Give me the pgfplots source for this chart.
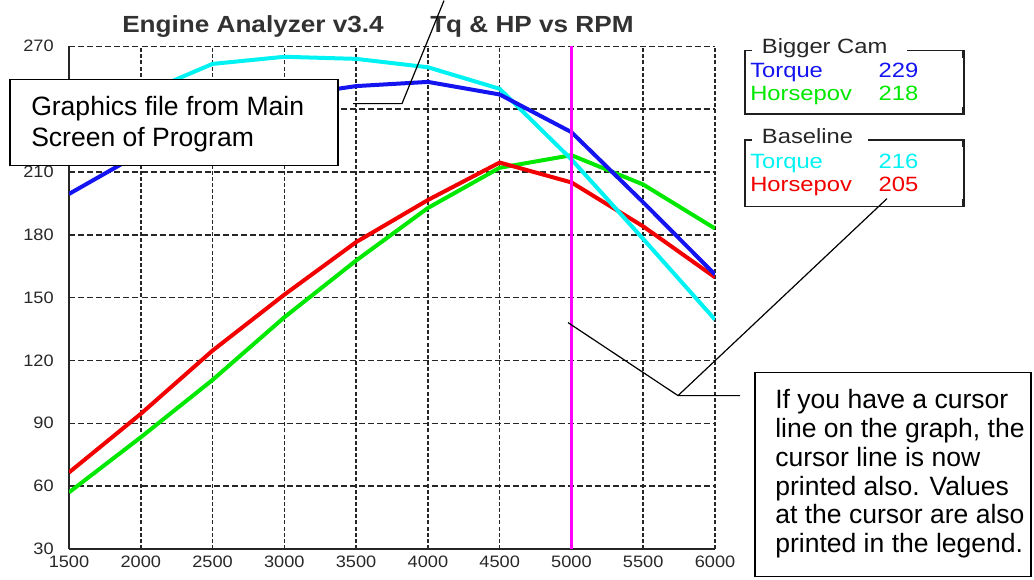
\documentclass[border=0pt]{standalone}
\usepackage{pgfplots}
\pgfplotsset{compat=1.18}
\usepackage{fontspec}
\setmainfont{Liberation Sans}
\newfontfamily\tickfont{Liberation Sans}[FakeStretch=1.1]
\newfontfamily\legfont{Liberation Sans}[FakeStretch=1.15]
\newfontfamily\titfont{Liberation Sans}[FakeStretch=1.12]
\definecolor{cBlue}{RGB}{20,20,240}
\definecolor{cGreen}{RGB}{0,232,0}
\definecolor{cCyan}{RGB}{0,242,242}
\definecolor{cRed}{RGB}{242,0,0}
\definecolor{cMag}{RGB}{255,0,255}
\definecolor{tickgray}{RGB}{40,40,40}
\definecolor{titgray}{RGB}{50,50,50}
\begin{document}
\begin{tikzpicture}
\begin{scope}[x=0.75pt,y=-0.75pt]
\useasboundingbox (0,0) rectangle (1034,579);
\end{scope}
\begin{axis}[
  at={(51.75pt,-411.225pt)}, anchor=south west,
  scale only axis, width=484.5pt, height=376.95pt,
  xmin=1500, xmax=6000, ymin=30, ymax=270,
  xtick={1500,2000,...,6000}, ytick={30,60,...,270},
  axis x line*=bottom, axis y line*=left,
  axis line style={-, line width=1.2pt, black!85},
  major tick length=0pt,
  grid=major,
  x grid style={black!85, line width=1.1pt, dash pattern=on 3pt off 1.6pt},
  y grid style={black!85, line width=1.1pt, dash pattern=on 4.5pt off 2.3pt},
  ticklabel style={font=\tickfont\fontsize{12.4}{14}\selectfont, text=tickgray},
  /pgf/number format/assume math mode=true,
  /pgf/number format/1000 sep={},
  xticklabel style={yshift=-2pt},
  yticklabel style={xshift=-8pt},
]
\addplot[cGreen, line width=3pt] coordinates {(1500,57)(2000,83.3)(2500,110.7)(3000,140.6)(3500,167.7)(4000,192.8)(4500,212)(5000,218)(5500,204)(6000,183)};
\addplot[cRed, line width=3pt] coordinates {(1500,66.5)(2000,94.5)(2500,124.7)(3000,151.4)(3500,176.5)(4000,196.6)(4500,214.5)(5000,205)(5500,184)(6000,159.7)};
\addplot[cCyan, line width=3pt] coordinates {(1500,231)(2000,247)(2500,261.6)(3000,265)(3500,264)(4000,260)(4500,249.7)(5000,216)(5500,178)(6000,139.5)};
\addplot[cBlue, line width=3pt] coordinates {(1500,199.5)(2000,219)(2500,232.5)(3000,246)(3500,251)(4000,253)(4500,247)(5000,229)(5500,195.5)(6000,161)};
\addplot[cMag, line width=1.6pt] coordinates {(5000,30)(5000,270)};
\end{axis}
\begin{scope}[x=0.75pt,y=-0.75pt]
% title
\node[anchor=base west, inner sep=0, text=titgray, font=\titfont\bfseries\fontsize{17.5}{20}\selectfont] at (122,31.7) {Engine Analyzer v3.4};
\node[anchor=base west, inner sep=0, text=titgray, font=\titfont\bfseries\fontsize{17.5}{20}\selectfont] at (430,31.7) {Tq \& HP vs RPM};
% legend boxes
\begin{scope}[line width=1.1pt, draw=black!88]
\draw (752,50) -- (745,50) -- (745,113.3) -- (964,113.3) -- (964,50) -- (906.7,50);
\draw[line width=2pt] (963.5,49.5) -- (963.5,57);
\draw[line width=2pt] (963.5,106) -- (963.5,113.5);
\draw (752,139.3) -- (745,139.3) -- (745,205.7) -- (964,205.7) -- (964,139.3) -- (868.3,139.3);
\draw[line width=2pt] (963.5,139) -- (963.5,146.5);
\draw[line width=2pt] (963.5,198) -- (963.5,206);
\end{scope}
\begin{scope}[every node/.style={anchor=base west, inner sep=0, font=\legfont\fontsize{15.5}{18}\selectfont}]
\node[text=black!85] at (761.7,53) {Bigger Cam};
\node[text=cBlue] at (750,77) {Torque};
\node[text=cBlue] at (878.3,77) {229};
\node[text=cGreen] at (750,99.5) {Horsepov};
\node[text=cGreen] at (878.3,99.5) {218};
\node[text=black!85] at (761.7,143.3) {Baseline};
\node[text=cCyan] at (750,167.7) {Torque};
\node[text=cCyan] at (878.3,167.7) {216};
\node[text=cRed] at (750,190.7) {Horsepov};
\node[text=cRed] at (878.3,190.7) {205};
\end{scope}
% annotation 1
\draw[line width=1.1pt, fill=white] (10,79) rectangle (338,165);
\begin{scope}[every node/.style={anchor=base west, inner sep=0, font=\fontsize{19.9}{23}\selectfont}]
\node at (31,115) {Graphics file from Main};
\node at (31,145.7) {Screen of Program};
\end{scope}
\draw[line width=0.9pt] (353,103) -- (402,103) -- (444,0);
% annotation 2
\draw[line width=1.1pt, fill=white] (755,372) rectangle (1031,576);
\begin{scope}[every node/.style={anchor=base west, inner sep=0, font=\fontsize{19.9}{23}\selectfont}]
\node at (775,408.3) {If you have a cursor};
\node at (775,437) {line on the graph, the};
\node at (775,465.7) {cursor line is now};
\node at (775,494.4) {printed also. Values};
\node at (775,523.1) {at the cursor are also};
\node at (775,551.8) {printed in the legend.};
\end{scope}
\draw[line width=0.9pt] (740,395) -- (678,395) -- (568,322);
\draw[line width=0.9pt] (678,395) -- (887,198);
\end{scope}
\end{tikzpicture}
\end{document}
